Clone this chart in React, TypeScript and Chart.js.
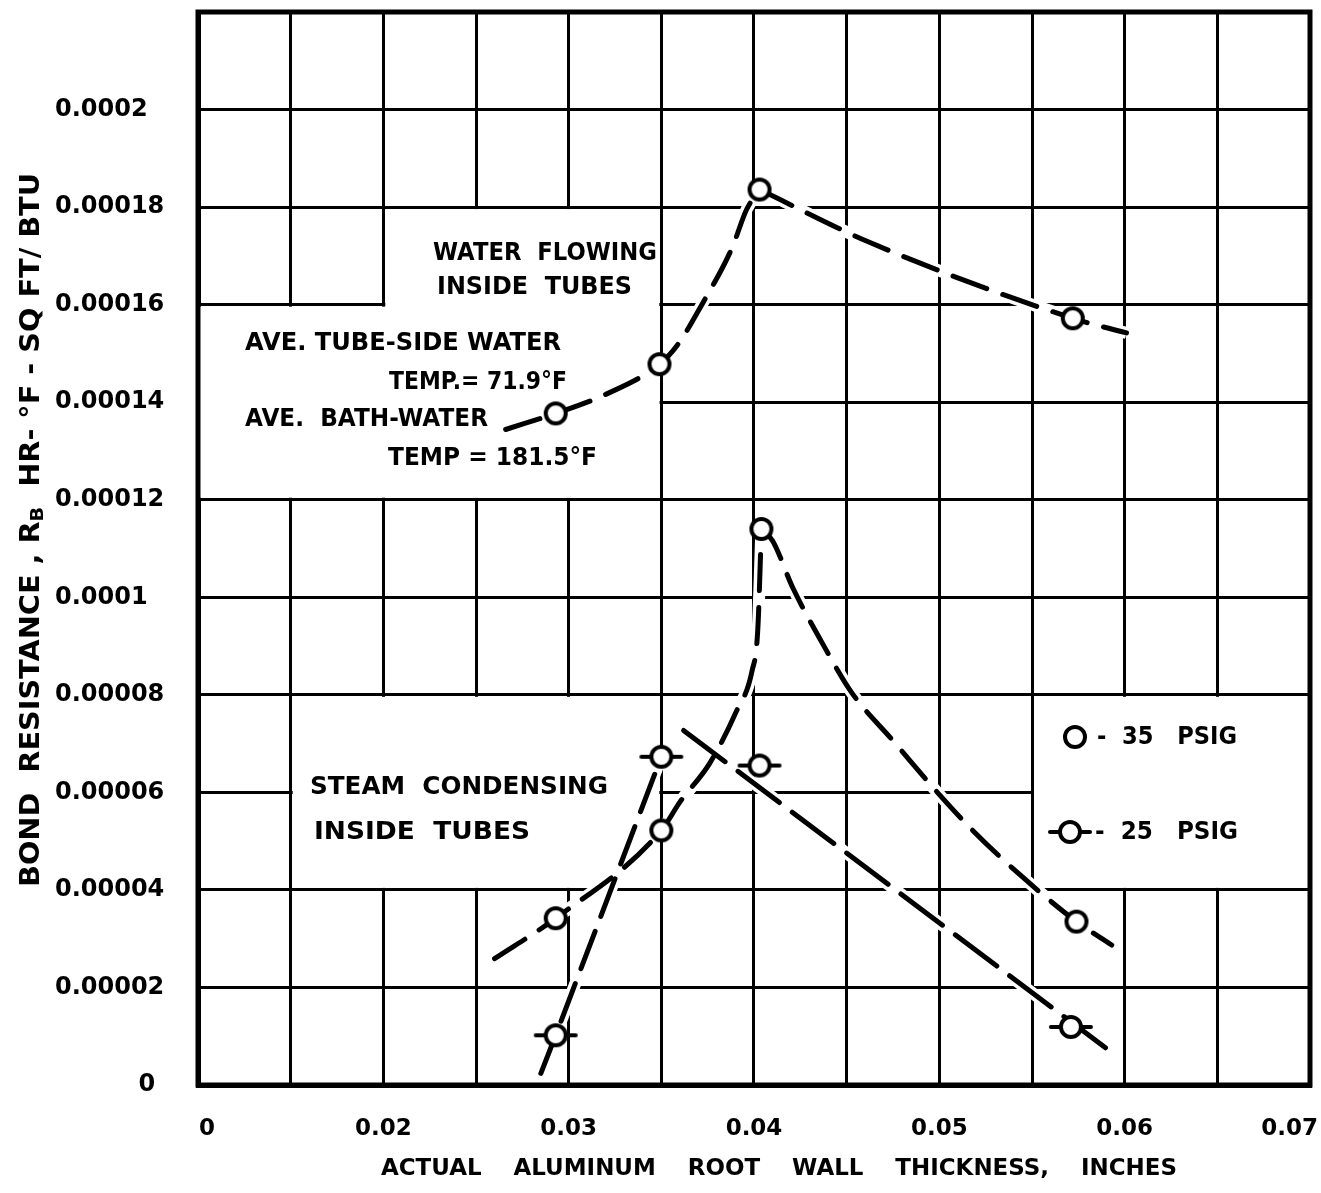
import React, { useEffect, useRef } from "react";
import { Chart, registerables } from "chart.js";

Chart.register(...registerables);

const FONT = '"DejaVu Sans", "Liberation Sans", Arial, sans-serif';

// ---- axes (the x axis is broken: its first gridline is labelled 0) ----
const xGridValues = [0.01, 0.015, 0.02, 0.025, 0.03, 0.035, 0.04, 0.045, 0.05, 0.055, 0.06, 0.065, 0.07];
const xTickValues = [0.01, 0.02, 0.03, 0.04, 0.05, 0.06, 0.07];
const xTickLabels = ["0", "0.02", "0.03", "0.04", "0.05", "0.06", "0.07"];
const yTickValues = [0, 0.00002, 0.00004, 0.00006, 0.00008, 0.0001, 0.00012, 0.00014, 0.00016, 0.00018, 0.0002];
const yTickLabels = ["0", "0.00002", "0.00004", "0.00006", "0.00008", "0.0001", "0.00012", "0.00014", "0.00016", "0.00018", "0.0002"];

// ---- measured points ----
const waterX = [0.0293, 0.0349, 0.0403, 0.0572];
const waterY = [1.377e-4, 1.478e-4, 1.836e-4, 1.572e-4];
const steam35X = [0.0293, 0.035, 0.0404, 0.0574];
const steam35Y = [3.42e-5, 5.22e-5, 1.14e-4, 3.35e-5];
const steam25X = [0.0293, 0.035, 0.0403, 0.0571];
const steam25Y = [1.02e-5, 6.73e-5, 6.55e-5, 1.19e-5];

// ---- faired curves drawn through the points ----
const waterRiseX = [0.0266, 0.0293, 0.032, 0.0349, 0.0359, 0.0372, 0.0388, 0.0396, 0.0403];
const waterRiseY = [1.344e-4, 1.377e-4, 1.416e-4, 1.478e-4, 1.519e-4, 1.601e-4, 1.715e-4, 1.795e-4, 1.836e-4];
const waterFallX = [0.0403, 0.0461, 0.0572, 0.0601];
const waterFallY = [1.836e-4, 1.73e-4, 1.572e-4, 1.542e-4];
const s35RiseX = [0.026, 0.0293, 0.035, 0.036, 0.0376, 0.039, 0.0399, 0.0402, 0.0404];
const s35RiseY = [2.59e-5, 3.42e-5, 5.22e-5, 5.8e-5, 6.59e-5, 7.62e-5, 8.5e-5, 9.31e-5, 1.14e-4];
const s35FallX = [0.0404, 0.041, 0.0421, 0.0437, 0.0453, 0.0475, 0.0498, 0.0518, 0.0545, 0.0574, 0.0593];
const s35FallY = [1.14e-4, 1.116e-4, 1.019e-4, 9.05e-5, 8.03e-5, 7.06e-5, 6.04e-5, 5.22e-5, 4.26e-5, 3.35e-5, 2.87e-5];
const s25RiseX = [0.0285, 0.0293, 0.035];
const s25RiseY = [2.4e-6, 1.02e-5, 6.73e-5];
const s25FallX = [0.0362, 0.0596];
const s25FallY = [7.27e-5, 5.8e-6];

const pts = (xs: number[], ys: number[]) => xs.map((x, i) => ({ x, y: ys[i] }));

function makeMarker(ticks: boolean): HTMLCanvasElement {
  const c = document.createElement("canvas");
  const w = ticks ? 46 : 28;
  const h = 28;
  c.width = w;
  c.height = h;
  const g = c.getContext("2d")!;
  const cx = w / 2;
  const cy = h / 2;
  if (ticks) {
    g.strokeStyle = "#000";
    g.lineWidth = 4;
    g.lineCap = "round";
    g.beginPath();
    g.moveTo(3, cy);
    g.lineTo(w - 3, cy);
    g.stroke();
  }
  g.beginPath();
  g.arc(cx, cy, 10, 0, Math.PI * 2);
  g.fillStyle = "#fff";
  g.fill();
  g.lineWidth = 4;
  g.strokeStyle = "#000";
  g.stroke();
  return c;
}

function fitText(ctx: CanvasRenderingContext2D, text: string, x: number, cy: number, width: number, size: number) {
  ctx.save();
  ctx.font = `bold ${size}px ${FONT}`;
  ctx.textBaseline = "middle";
  ctx.textAlign = "left";
  ctx.fillStyle = "#000";
  const w = ctx.measureText(text).width;
  ctx.translate(x, cy);
  ctx.scale(width / w, 1);
  ctx.fillText(text, 0, 0);
  ctx.restore();
}

const annotations: [string, number, number, number, number][] = [
  ["WATER  FLOWING", 433, 253, 224, 25],
  ["INSIDE  TUBES", 437, 287, 195, 25],
  ["AVE. TUBE-SIDE WATER", 245, 343, 316, 25],
  ["TEMP.= 71.9°F", 389, 382, 178, 25],
  ["AVE.  BATH-WATER", 245, 419, 243, 25],
  ["TEMP = 181.5°F", 388, 458, 209, 25],
  ["STEAM  CONDENSING", 310, 787, 298, 25],
  ["INSIDE  TUBES", 314, 832, 216, 25],
  ["-  35   PSIG", 1097, 737, 140, 25],
  ["-  25   PSIG", 1095, 832, 143, 25],
];

const maskBoxes = [
  { x0: 0.01, x1: 0.035, y0: 0.00012, y1: 0.00016 },
  { x0: 0.02, x1: 0.035, y0: 0.00012, y1: 0.00018 },
  { x0: 0.015, x1: 0.035, y0: 0.00004, y1: 0.00008 },
  { x0: 0.055, x1: 0.07, y0: 0.00004, y1: 0.00008 },
];

export default function App() {
  const ref = useRef<HTMLCanvasElement | null>(null);

  useEffect(() => {
    document.body.style.margin = "0";
    document.body.style.overflow = "hidden";
    const canvas = ref.current!;
    const plain = makeMarker(false);
    const ticked = makeMarker(true);

    const curves = [
      { x: waterRiseX, y: waterRiseY, smooth: true, dash: [36, 17] },
      { x: waterFallX, y: waterFallY, smooth: true, dash: [36, 17] },
      { x: s35RiseX, y: s35RiseY, smooth: true, dash: [36, 17] },
      { x: s35FallX, y: s35FallY, smooth: true, dash: [36, 17] },
      { x: s25RiseX, y: s25RiseY, smooth: false, dash: [40, 16] },
      { x: s25FallX, y: s25FallY, smooth: false, dash: [52, 16] },
    ];

    const halos = curves.map((c) => ({
      data: pts(c.x, c.y),
      showLine: true,
      borderColor: "#fff",
      borderWidth: 12,
      pointRadius: 0,
      cubicInterpolationMode: c.smooth ? "monotone" : "default",
      tension: 0,
      order: 10,
    }));
    const lines = curves.map((c) => ({
      data: pts(c.x, c.y),
      showLine: true,
      borderColor: "#000",
      borderWidth: 5,
      borderDash: c.dash,
      borderCapStyle: "round",
      pointRadius: 0,
      cubicInterpolationMode: c.smooth ? "monotone" : "default",
      tension: 0,
      order: 5,
    }));
    const markers = [
      { data: pts(waterX, waterY), pointStyle: plain },
      { data: pts(steam35X, steam35Y), pointStyle: plain },
      { data: pts(steam25X, steam25Y), pointStyle: ticked },
    ].map((m) => ({ ...m, showLine: false, pointRadius: 10, order: 0 }));

    const decor = {
      id: "decor",
      beforeDatasetsDraw(chart: any) {
        const { ctx } = chart;
        const xs = chart.scales.x;
        const ys = chart.scales.y;
        ctx.save();
        ctx.fillStyle = "#fff";
        for (const b of maskBoxes) {
          const x0 = xs.getPixelForValue(b.x0) + 2;
          const x1 = xs.getPixelForValue(b.x1) - 2;
          const y0 = ys.getPixelForValue(b.y1) + 2;
          const y1 = ys.getPixelForValue(b.y0) - 2;
          ctx.fillRect(x0, y0, x1 - x0, y1 - y0);
        }
        ctx.restore();
      },
      afterDraw(chart: any) {
        const { ctx, chartArea } = chart;
        const xs = chart.scales.x;
        // frame
        ctx.save();
        ctx.strokeStyle = "#000";
        ctx.lineWidth = 5;
        ctx.strokeRect(chartArea.left, chartArea.top, chartArea.right - chartArea.left, chartArea.bottom - chartArea.top);
        ctx.restore();

        // x tick labels
        ctx.save();
        ctx.font = `bold 23px ${FONT}`;
        ctx.fillStyle = "#000";
        ctx.textBaseline = "middle";
        xTickValues.forEach((v, i) => {
          const px = xs.getPixelForValue(v);
          if (i === 0) {
            ctx.textAlign = "left";
            ctx.fillText(xTickLabels[i], px + 1, 1129);
          } else if (i === xTickValues.length - 1) {
            ctx.textAlign = "right";
            ctx.fillText(xTickLabels[i], px + 8, 1129);
          } else {
            ctx.textAlign = "center";
            ctx.fillText(xTickLabels[i], px, 1129);
          }
        });
        ctx.restore();

        // x title
        fitText(ctx, "ACTUAL    ALUMINUM    ROOT    WALL    THICKNESS,    INCHES", 381, 1169, 796, 23);

        // y title (rotated, with subscript)
        ctx.save();
        const main = `bold 27px ${FONT}`;
        const sub = `bold 18px ${FONT}`;
        const p1 = "BOND  RESISTANCE , R";
        const p2 = "B";
        const p3 = "  HR- °F - SQ FT/ BTU";
        ctx.font = main;
        const w1 = ctx.measureText(p1).width;
        const w3 = ctx.measureText(p3).width;
        ctx.font = sub;
        const w2 = ctx.measureText(p2).width;
        const total = w1 + w2 + w3;
        ctx.translate(32, 530);
        ctx.rotate(-Math.PI / 2);
        ctx.scale(714 / total, 1);
        ctx.fillStyle = "#000";
        ctx.textBaseline = "middle";
        ctx.textAlign = "left";
        let x = -total / 2;
        ctx.font = main;
        ctx.fillText(p1, x, 0);
        x += w1;
        ctx.font = sub;
        ctx.fillText(p2, x, 6);
        x += w2;
        ctx.font = main;
        ctx.fillText(p3, x, 0);
        ctx.restore();

        // in-plot annotations and key
        for (const [t, x0, cy, w, s] of annotations) fitText(ctx, t, x0, cy, w, s);
        ctx.drawImage(plain, 1075 - plain.width / 2, 737 - plain.height / 2);
        ctx.drawImage(ticked, 1070 - ticked.width / 2, 832 - ticked.height / 2);
      },
    };

    const chart = new Chart(canvas, {
      type: "scatter",
      data: { datasets: [...halos, ...lines, ...markers] as any },
      options: {
        responsive: false,
        animation: false,
        devicePixelRatio: 1,
        events: [],
        layout: { padding: { left: 55, right: 10, top: 12, bottom: 0 } },
        plugins: { legend: { display: false }, tooltip: { enabled: false }, title: { display: false } },
        scales: {
          x: {
            type: "linear",
            min: 0.01,
            max: 0.07,
            afterBuildTicks: (s: any) => {
              s.ticks = xGridValues.map((v) => ({ value: v }));
            },
            afterFit: (s: any) => {
              s.height = 108;
            },
            ticks: { display: false },
            grid: { color: "#000", lineWidth: 3, drawTicks: false },
            border: { display: true, color: "#000", width: 5 },
          },
          y: {
            type: "linear",
            min: 0,
            max: 0.00022,
            afterBuildTicks: (s: any) => {
              s.ticks = yTickValues.map((v) => ({ value: v }));
            },
            afterFit: (s: any) => {
              s.width = 143;
            },
            ticks: {
              // the lone "0" sits near the axis in the original, the rest are flush left
              callback: (_v: any, i: number) => (i === 0 ? " ".repeat(10) + yTickLabels[i] : yTickLabels[i]),
              color: "#000",
              font: { family: FONT, size: 24, weight: "bold", lineHeight: 1 },
              crossAlign: "far",
              padding: 0,
              autoSkip: false,
            },
            grid: { color: "#000", lineWidth: 3, drawTicks: false },
            border: { display: true, color: "#000", width: 5 },
          },
        },
      },
      plugins: [decor],
    } as any);

    return () => chart.destroy();
  }, []);

  return (
    <div>
      <canvas ref={ref} width={1321} height={1193} style={{ display: "block", width: 1321, height: 1193 }} />
    </div>
  );
}
